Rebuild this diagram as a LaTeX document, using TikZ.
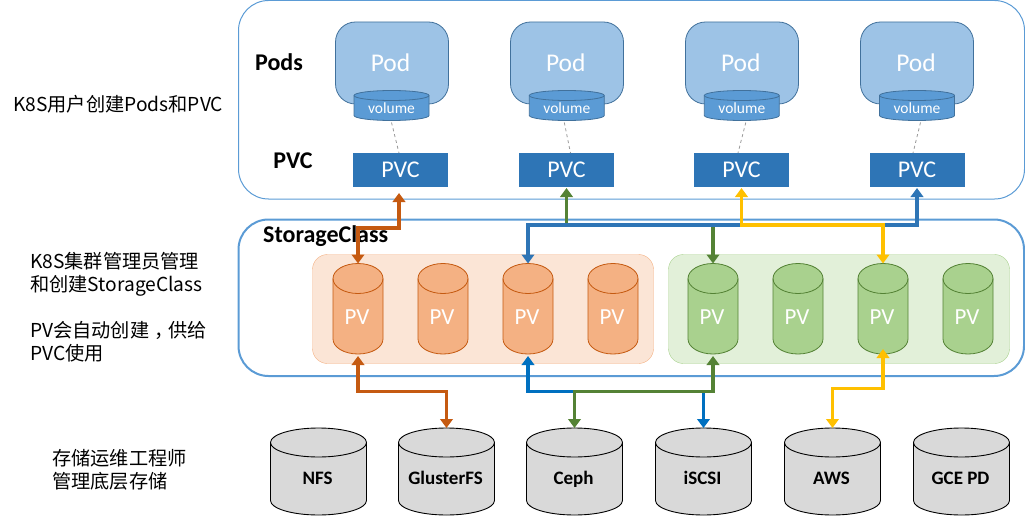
\documentclass[tikz,border=0pt]{standalone}
\usepackage{fontspec}
\setmainfont{Carlito}
\newfontfamily\cjkf{Noto Sans CJK SC}
\usetikzlibrary{arrows.meta,calc}
\definecolor{frameblue}{HTML}{5B9BD5}
\definecolor{podfill}{HTML}{9DC3E6}
\definecolor{poddraw}{HTML}{41719C}
\definecolor{pvcfill}{HTML}{2E75B6}
\definecolor{orgline}{HTML}{C55A11}
\definecolor{orgfill}{HTML}{F4B183}
\definecolor{orgpanel}{HTML}{FBE5D6}
\definecolor{grnline}{HTML}{548235}
\definecolor{grnfill}{HTML}{A9D18E}
\definecolor{grnpanel}{HTML}{E2F0D9}
\definecolor{ylw}{HTML}{FFC000}
\definecolor{blu}{HTML}{0070C0}
\definecolor{storfill}{HTML}{D9D9D9}
\newcommand{\cylbody}[7]{%
 \path[#7] (#2-#5,#3+#6) -- (#2-#5,#4-#6)
   arc[start angle=180,end angle=360,x radius=#5 pt,y radius=#6 pt]
   -- (#2+#5,#3+#6)
   arc[start angle=0,end angle=180,x radius=#5 pt,y radius=#6 pt] -- cycle;
 \path[#7,fill=none] (#2+#5,#3+#6)
   arc[start angle=360,end angle=180,x radius=#5 pt,y radius=#6 pt];
 \node[rectangle,inner sep=0pt,outer sep=0pt,minimum width={(#5)*2pt},minimum height={(#4-#3)*1pt}] (#1) at (#2,{(#3+#4)/2}) {};
}
\tikzset{
 x=1pt,y=-1pt,
 box/.style={rectangle,inner sep=0pt,outer sep=0pt,anchor=north west},
 frame/.style={box,draw=frameblue,rounded corners=30pt},
 podbox/.style={box,draw=poddraw,fill=podfill,rounded corners=20pt,line width=.8pt,minimum width=113pt,minimum height=82pt},
 podtext/.style={text=white,inner sep=0pt,anchor=base,font=\fontsize{25.5}{26}\selectfont},
 pvcbox/.style={rectangle,inner sep=0pt,outer sep=0pt,fill=pvcfill,minimum width=95pt,minimum height=34pt,text=white,font=\fontsize{24}{24}\selectfont},
 volstyle/.style={draw=poddraw,fill=frameblue,line width=.8pt},
 pvostyle/.style={draw=orgline,fill=orgfill,line width=.8pt},
 pvgstyle/.style={draw=grnline,fill=grnfill,line width=.8pt},
 storstyle/.style={draw=black,fill=storfill,line width=.9pt},
 voltext/.style={text=white,inner sep=0pt,font=\fontsize{15.5}{16}\selectfont},
 pvtext/.style={text=white,inner sep=0pt,anchor=base,font=\fontsize{23}{24}\selectfont},
 stortext/.style={inner sep=0pt,anchor=base,font=\fontsize{19}{19}\selectfont\bfseries},
 panelo/.style={box,fill=orgpanel,draw=orgfill,rounded corners=15pt,minimum width=341pt,minimum height=109pt},
 panelg/.style={panelo,fill=grnpanel,draw=grnfill},
 head/.style={inner sep=0pt,font=\fontsize{24}{24}\selectfont\bfseries},
 note/.style={font=\fontsize{19.2}{23}\cjkf,align=left,anchor=west,inner sep=0pt},
 dlink/.style={line width=3.4pt,{Triangle[length=9pt,width=12.5pt]}-{Triangle[length=9pt,width=12.5pt]},draw=#1},
 dashy/.style={draw=black!40,dashed,line width=.8pt},
}
\begin{document}
\begin{tikzpicture}
\useasboundingbox (0,0) rectangle (1025,516);
\node[note] (n1) at (13,104) {K8S用户创建Pods和PVC};
\node[note] (n2) at (30,274.5) {K8S集群管理员管理\\和创建StorageClass};
\node[note] (n3) at (30,341.5) {PV会自动创建\kern.25em，\kern-.25em 供给\\PVC使用};
\node[note] (n4) at (52,469.5) {存储运维工程师\\管理底层存储};
\node[frame,line width=1pt,minimum width=786pt,minimum height=198.5pt] (top) at (238.5,.5) {};
\node[frame,line width=2pt,minimum width=785.5pt,minimum height=156.5pt] (mid) at (238.5,219.5) {};
\node[head] (pods) at (279,62) {Pods};
\node[head] (pvclabel) at (293,161) {PVC};
\node[head,anchor=west] (sc) at (263,236) {StorageClass};
\foreach \i/\xa/\xv/\xc in {1/335.5/391.5/400.5,2/510.5/566.8/566.5,3/685.5/741.8/741.5,4/860.5/917/917}{
 \node[podbox] (pod\i) at (\xa,22) {};
 \node[podtext] (podt\i) at (\xv-1,71.5) {Pod};
 \cylbody{vol\i}{\xv}{90.5}{120.5}{37.5}{5}{volstyle}
 \node[voltext] (volt\i) at (\xv,108) {volume};
 \node[pvcbox] (pvc\i) at (\xc,170) {PVC};
}
\node[panelo] (po) at (312.5,254.5) {};
\node[panelg] (pg) at (668.5,254.5) {};
\foreach \i/\x in {1/358,2/443,3/528,4/613}{
 \cylbody{pv\i}{\x}{263.5}{354}{25}{15}{pvostyle}
 \node[pvtext] (pvt\i) at (\x-1,324) {PV};
}
\foreach \i/\x in {5/713,6/798,7/883,8/968}{
 \cylbody{pv\i}{\x}{263.5}{354}{25}{15}{pvgstyle}
 \node[pvtext] (pvt\i) at (\x-1,324) {PV};
}
\foreach \n/\t/\x in {nfs/NFS/318.5,glu/GlusterFS/446.5,cep/Ceph/574.5,isc/iSCSI/703.5,aws/AWS/832.5,gce/GCE PD/961.5}{
 \cylbody{\n}{\x}{428}{515}{48}{14.5}{storstyle}
 \node[stortext] (\n t) at (\x-1,484) {\t};
}
\coordinate (bt) at (0,225);
\coordinate (bo) at (0,228);
\coordinate (bb) at (0,391.5);
\coordinate (by) at (0,388.5);
\draw[dashy] ($(vol1.south)+(0,2)$) -- ($(pvc1.north)+(-1.5,0)$);
\draw[dashy] ($(vol2.south)+(-2.5,2)$) -- ($(pvc2.north)+(4,0)$);
\draw[dashy] ($(vol3.south)+(4,2)$) -- ($(pvc3.north)+(-3.5,0)$);
\draw[dashy] ($(vol4.south)+(3.5,2)$) -- ($(pvc4.north)+(-4,0)$);
\draw[dlink=orgline,shorten >=6pt] (pv1.north) -- (pv1.north |- bo) -| ($(pvc1.south)+(-1.5,0)$);
\draw[dlink=grnline,shorten >=1pt] (pv5.north) -- (pv5.north |- bt) -| (pvc2.south);
\draw[dlink=pvcfill,shorten >=1pt] (pv3.north) -- (pv3.north |- bt) -| (pvc4.south);
\draw[dlink=ylw,shorten >=1pt] (pv7.north) -- (pv7.north |- bt) -| (pvc3.south);
\draw[dlink=orgline,shorten <=2pt] (pv1.south) -- (pv1.south |- bb) -| (glu.north);
\draw[dlink=blu,shorten <=2pt] (pv3.south) -- (pv3.south |- bb) -| (isc.north);
\draw[dlink=grnline,shorten <=2pt] (pv5.south) -- (pv5.south |- bb) -| (cep.north);
\draw[dlink=ylw,shorten <=-5pt] (pv7.south) -- (pv7.south |- by) -| (aws.north);
\end{tikzpicture}
\end{document}
